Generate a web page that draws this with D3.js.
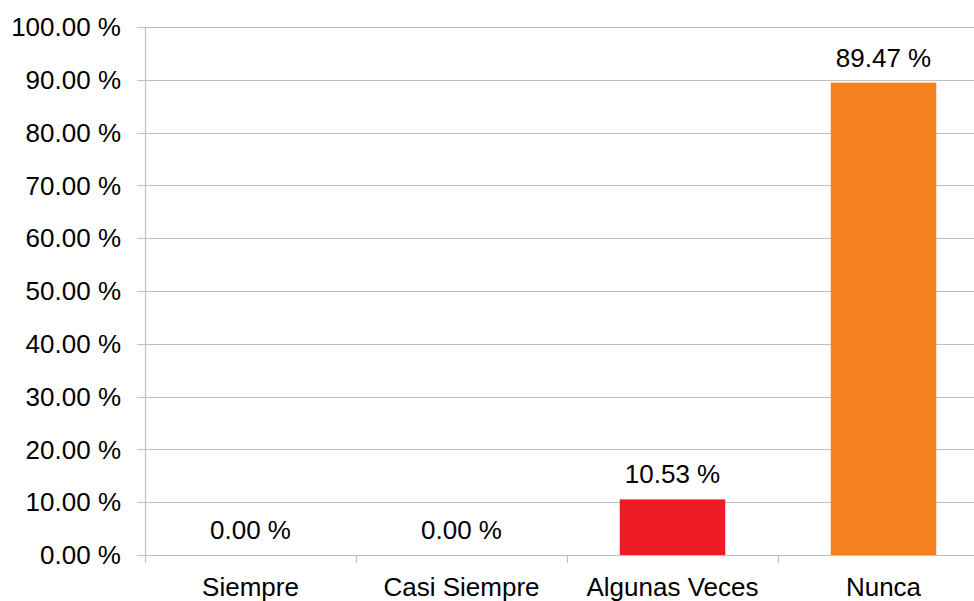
<!DOCTYPE html>
<html>
<head>
<meta charset="utf-8">
<script src="https://cdn.jsdelivr.net/npm/d3@7/dist/d3.min.js"></script>
<style>
  html, body { margin: 0; padding: 0; background: #fff; }
  svg { display: block; }
  text { font-family: "Liberation Sans", Arial, sans-serif; fill: #000; }
</style>
</head>
<body>
<svg id="chart" width="974" height="601"></svg>
<script>
// Response categories and their share of answers (%)
const categories = ["Siempre", "Casi Siempre", "Algunas Veces", "Nunca"];
const percentages = [0.00, 0.00, 10.53, 89.47];
const barColors = ["#4472C4", "#70AD47", "#ED1C24", "#F58220"];
const yTicks = [0, 10, 20, 30, 40, 50, 60, 70, 80, 90, 100];

const W = 974, H = 601;
const plotLeft = 145, plotTop = 27, plotBottom = 555, plotRight = 989;
const fontSize = 26;

const svg = d3.select("#chart");

const x = d3.scaleBand()
  .domain(categories)
  .range([plotLeft, plotRight])
  .paddingInner(0.5)
  .paddingOuter(0.25);

const y = d3.scaleLinear().domain([0, 100]).range([plotBottom, plotTop]);

const fmt = v => v.toFixed(2) + " %";

// Horizontal gridlines
svg.append("g")
  .selectAll("line")
  .data(yTicks)
  .join("line")
  .attr("x1", plotLeft - 8)
  .attr("x2", W)
  .attr("y1", d => Math.round(y(d)) + 0.5)
  .attr("y2", d => Math.round(y(d)) + 0.5)
  .attr("stroke", "#bfbfbf")
  .attr("stroke-width", 1.2);

// Y axis line
svg.append("line")
  .attr("x1", plotLeft + 0.5).attr("x2", plotLeft + 0.5)
  .attr("y1", plotTop).attr("y2", plotBottom)
  .attr("stroke", "#bfbfbf").attr("stroke-width", 1.2);

// Y tick labels
svg.append("g")
  .selectAll("text")
  .data(yTicks)
  .join("text")
  .attr("x", 121)
  .attr("y", d => y(d))
  .attr("dy", "0.35em")
  .attr("text-anchor", "end")
  .attr("font-size", fontSize)
  .text(d => fmt(d));

// Category tick marks at band boundaries
const step = x.step();
const boundaries = d3.range(categories.length + 1).map(i => plotLeft + i * step);
svg.append("g")
  .selectAll("line")
  .data(boundaries)
  .join("line")
  .attr("x1", d => Math.round(d) + 0.5)
  .attr("x2", d => Math.round(d) + 0.5)
  .attr("y1", plotBottom)
  .attr("y2", plotBottom + 8)
  .attr("stroke", "#bfbfbf")
  .attr("stroke-width", 1.2);

// Bars
svg.append("g")
  .selectAll("rect")
  .data(categories)
  .join("rect")
  .attr("x", d => x(d))
  .attr("width", x.bandwidth())
  .attr("y", (d, i) => y(percentages[i]))
  .attr("height", (d, i) => y(0) - y(percentages[i]))
  .attr("fill", (d, i) => barColors[i]);

// Value labels
svg.append("g")
  .selectAll("text")
  .data(categories)
  .join("text")
  .attr("x", d => x(d) + x.bandwidth() / 2)
  .attr("y", (d, i) => y(percentages[i]) - 16)
  .attr("text-anchor", "middle")
  .attr("font-size", fontSize)
  .text((d, i) => fmt(percentages[i]));

// Category labels
svg.append("g")
  .selectAll("text")
  .data(categories)
  .join("text")
  .attr("x", d => x(d) + x.bandwidth() / 2)
  .attr("y", 596)
  .attr("text-anchor", "middle")
  .attr("font-size", fontSize)
  .text(d => d);
</script>
</body>
</html>
